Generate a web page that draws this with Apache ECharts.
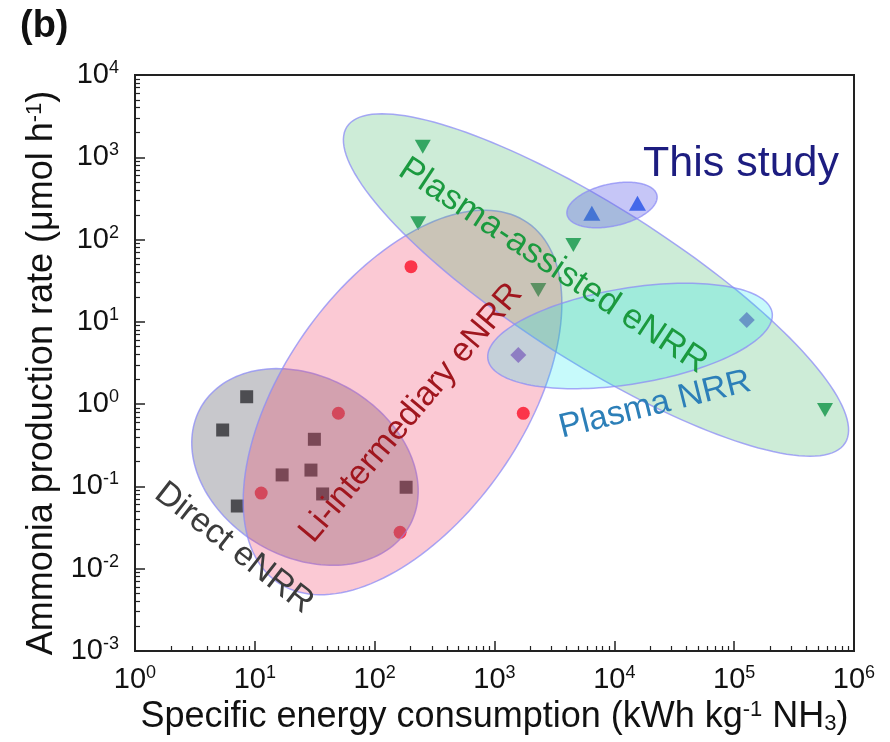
<!DOCTYPE html>
<html>
<head>
<meta charset="utf-8">
<script src="https://cdn.jsdelivr.net/npm/echarts@6/dist/echarts.min.js"></script>
<style>
html,body{margin:0;padding:0;background:#fff}
#chart{width:890px;height:742px}
</style>
</head>
<body>
<div id="chart"></div>
<script>
// Specific energy consumption (kWh kg-1 NH3) vs NH3 production rate (umol h-1)
const directX = [5.39, 8.55, 7.14, 16.9, 29.4, 31.4, 36.8, 183];
const directY = [0.485, 1.23, 0.0578, 0.138, 0.158, 0.374, 0.081, 0.0977];
const liX = [11.3, 49.8, 163, 201, 1739];
const liY = [0.083, 0.775, 0.0277, 46.9, 0.774];
const plasmaEX = [252, 231, 2321, 4550, 573000];
const plasmaEY = [1345, 158, 24.4, 86, 0.849];
const plasmaX = [1581, 127300];
const plasmaY = [3.96, 10.5];
const studyX = [6490, 15600];
const studyY = [209, 276];

// Cluster regions, each given by the two tips of its major axis: [x1, y1, x2, y2]
const regionNames = ['Direct eNRR', 'Li-intermediary eNRR', 'Plasma-assisted eNRR', 'Plasma NRR', 'This study'];
const regionTips = [
  [3.56, 0.924, 193, 0.0322],
  [1897, 159.6, 15.37, 0.00689],
  [58.6, 2339, 843000, 0.3365],
  [207400, 12.92, 881, 3.51],
  [22660, 347, 4036, 199.5]
];

// Decade exponents of the two log axes
const xTickExponents = [0, 1, 2, 3, 4, 5, 6];
const yTickExponents = [-3, -2, -1, 0, 1, 2, 3, 4];
const minorFactors = [2, 3, 4, 5, 6, 7, 8, 9];

// Minor tick positions inside each decade, as log10 values
function minorLogValues(exps) {
  const out = [];
  for (let i = 0; i < exps.length - 1; i++) {
    minorFactors.forEach(f => out.push(exps[i] + Math.log10(f)));
  }
  return out;
}

const FONT = '"Liberation Sans", Arial, Helvetica, sans-serif';

// Region look: minor/major axis ratio and fill
const regionStyle = [
  { ratio: 0.75, fill: 'rgba(118,118,128,0.40)' },
  { ratio: 0.548, fill: 'rgba(240,60,100,0.28)' },
  { ratio: 0.264, fill: 'rgba(60,180,100,0.26)' },
  { ratio: 0.333, fill: 'rgba(0,232,236,0.22)' },
  { ratio: 0.457, fill: 'rgba(96,96,232,0.36)' }
];

const zip = (xs, ys) => xs.map((x, i) => [x, ys[i]]);

const tickLabel = {
  fontFamily: FONT,
  color: '#111',
  formatter: v => '{b|10}{s|' + Math.round(Math.log10(v)) + '}',
  rich: {
    b: { fontFamily: FONT, fontSize: 29, lineHeight: 32, color: '#111' },
    s: { fontFamily: FONT, fontSize: 18, lineHeight: 18, verticalAlign: 'top', color: '#111' }
  }
};

const nameRich = {
  sup: { fontFamily: FONT, fontSize: 22, lineHeight: 22, verticalAlign: 'top', color: '#111' },
  sub: { fontFamily: FONT, fontSize: 22, lineHeight: 22, verticalAlign: 'bottom', color: '#111' }
};

// Linear overlay axes (in log10 units) that only carry the minor ticks
const minorAxis = (exps, position) => ({
  type: 'value', gridIndex: 0, position: position,
  min: exps[0], max: exps[exps.length - 1],
  axisLine: { show: false, onZero: false },
  axisLabel: { show: false },
  splitLine: { show: false },
  axisTick: { show: true, inside: true, length: 5, customValues: minorLogValues(exps),
    lineStyle: { color: '#222', width: 1.2 } }
});

const chart = echarts.init(document.getElementById('chart'), null, { renderer: 'canvas' });

const option = {
  animation: false,
  backgroundColor: '#fff',
  title: {
    text: '(b)', left: 15, top: 3,
    textStyle: { fontFamily: FONT, fontSize: 38, fontWeight: 'bold', color: '#111' }
  },
  grid: {
    left: 135, right: 36, top: 75, bottom: 91,
    outerBoundsMode: 'none', containLabel: false,
    show: true, borderColor: '#222', borderWidth: 2, backgroundColor: 'transparent'
  },
  xAxis: [
    {
      type: 'log', logBase: 10,
      min: Math.pow(10, xTickExponents[0]), max: Math.pow(10, xTickExponents[xTickExponents.length - 1]),
      name: 'Specific energy consumption (kWh kg{sup|-1} NH{sub|3})',
      nameLocation: 'middle', nameGap: 46,
      nameTextStyle: { fontFamily: FONT, fontSize: 36, color: '#111', rich: nameRich },
      axisLine: { show: true, onZero: false, lineStyle: { color: '#222', width: 2 } },
      axisTick: { show: true, inside: true, length: 10, lineStyle: { color: '#222', width: 1.5 } },
      axisLabel: Object.assign({ margin: 13 }, tickLabel),
      splitLine: { show: false }
    },
    minorAxis(xTickExponents, 'bottom')
  ],
  yAxis: [
    {
      type: 'log', logBase: 10,
      min: Math.pow(10, yTickExponents[0]), max: Math.pow(10, yTickExponents[yTickExponents.length - 1]),
      name: 'Ammonia production rate (\u03bcmol h{sup|-1})',
      nameLocation: 'middle', nameGap: 71, nameRotate: 90,
      nameTextStyle: { fontFamily: FONT, fontSize: 36, color: '#111', rich: nameRich, padding: [0, 20, 0, 0] },
      axisLine: { show: true, onZero: false, lineStyle: { color: '#222', width: 2 } },
      axisTick: { show: true, inside: true, length: 10, lineStyle: { color: '#222', width: 1.5 } },
      axisLabel: Object.assign({ margin: 16 }, tickLabel),
      splitLine: { show: false }
    },
    minorAxis(yTickExponents, 'left')
  ],
  series: [
    { name: 'Direct eNRR', type: 'scatter', symbol: 'rect', symbolSize: 13, z: 2,
      itemStyle: { color: '#000' }, data: zip(directX, directY) },
    { name: 'Li-intermediary eNRR', type: 'scatter', symbol: 'circle', symbolSize: 13, z: 2,
      itemStyle: { color: '#ff0010' }, data: zip(liX, liY) },
    { name: 'Plasma-assisted eNRR', type: 'scatter', symbol: 'triangle', symbolRotate: 180, symbolSize: [16, 14], z: 2,
      itemStyle: { color: '#008a3c' }, data: zip(plasmaEX, plasmaEY) },
    { name: 'Plasma NRR', type: 'scatter', symbol: 'diamond', symbolSize: 16, z: 2,
      itemStyle: { color: '#8a48d0' }, data: zip(plasmaX, plasmaY) },
    { name: 'This study', type: 'scatter', symbol: 'triangle', symbolSize: [17, 15], z: 2,
      itemStyle: { color: '#0048e6' }, data: zip(studyX, studyY) },
    {
      name: 'regions', type: 'custom', z: 5, silent: true,
      data: regionTips.map((t, i) => ({ name: regionNames[i], value: t })),
      encode: { x: [0, 2], y: [1, 3] },
      renderItem: function (params, api) {
        const p1 = api.coord([api.value(0), api.value(1)]);
        const p2 = api.coord([api.value(2), api.value(3)]);
        const st = regionStyle[params.dataIndex];
        const cx = (p1[0] + p2[0]) / 2, cy = (p1[1] + p2[1]) / 2;
        const a = Math.hypot(p2[0] - p1[0], p2[1] - p1[1]) / 2;
        const b = a * st.ratio;
        const ang = Math.atan2(p2[1] - p1[1], p2[0] - p1[0]);
        const c = Math.cos(ang), s = Math.sin(ang);
        const pts = [];
        for (let i = 0; i < 160; i++) {
          const t = i / 160 * 2 * Math.PI;
          const ex = a * Math.cos(t), ey = b * Math.sin(t);
          pts.push([cx + ex * c - ey * s, cy + ex * s + ey * c]);
        }
        return {
          type: 'polygon',
          shape: { points: pts },
          style: { fill: st.fill, stroke: 'rgba(140,140,245,0.75)', lineWidth: 1.5 }
        };
      }
    }
  ],
  graphic: [
    { type: 'text', x: 741, y: 164, z: 100,
      style: { text: 'This study', font: '43px ' + FONT, fill: '#1d1d80', align: 'center', verticalAlign: 'middle' } },
    { type: 'text', x: 553, y: 266, z: 100, rotation: -33.5 * Math.PI / 180,
      style: { text: 'Plasma-assisted eNRR', font: '35px ' + FONT, fill: '#1b9a3f', align: 'center', verticalAlign: 'middle' } },
    { type: 'text', x: 411, y: 413, z: 100, rotation: 50 * Math.PI / 180,
      style: { text: 'Li-intermediary eNRR', font: '34px ' + FONT, fill: '#a0161e', align: 'center', verticalAlign: 'middle' } },
    { type: 'text', x: 234, y: 548, z: 100, rotation: -38 * Math.PI / 180,
      style: { text: 'Direct eNRR', font: '34px ' + FONT, fill: '#3c3c3c', align: 'center', verticalAlign: 'middle' } },
    { type: 'text', x: 655, y: 405, z: 100, rotation: 14 * Math.PI / 180,
      style: { text: 'Plasma NRR', font: '34px ' + FONT, fill: '#2c7fb8', align: 'center', verticalAlign: 'middle' } }
  ]
};

chart.setOption(option);
</script>
</body>
</html>
